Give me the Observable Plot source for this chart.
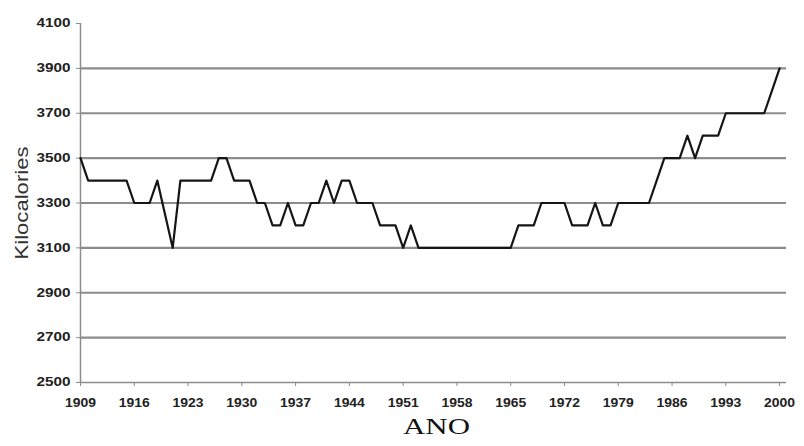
<!DOCTYPE html>
<html>
<head>
<meta charset="utf-8">
<script src="https://cdn.jsdelivr.net/npm/d3@7"></script>
<script src="https://cdn.jsdelivr.net/npm/@observablehq/plot@0.6"></script>
<style>
  body { margin: 0; background: #fff; }
  svg { display: block; }
</style>
</head>
<body>
<div id="chart"></div>
<script>
const years = [
  1909, 1910, 1911, 1912, 1913, 1914, 1915, 1916, 1917, 1918,
  1919, 1920, 1921, 1922, 1923, 1924, 1925, 1926, 1927, 1928,
  1929, 1930, 1931, 1932, 1933, 1934, 1935, 1936, 1937, 1938,
  1939, 1940, 1941, 1942, 1943, 1944, 1945, 1946, 1947, 1948,
  1949, 1950, 1951, 1952, 1953, 1954, 1955, 1956, 1957, 1958,
  1959, 1960, 1961, 1962, 1963, 1964, 1965, 1966, 1967, 1968,
  1969, 1970, 1971, 1972, 1973, 1974, 1975, 1976, 1977, 1978,
  1979, 1980, 1981, 1982, 1983, 1984, 1985, 1986, 1987, 1988,
  1989, 1990, 1991, 1992, 1993, 1994, 1995, 1996, 1997, 1998,
  1999, 2000
];
const kcal = [
  3500, 3400, 3400, 3400, 3400, 3400, 3400, 3300, 3300, 3300,
  3400, 3250, 3100, 3400, 3400, 3400, 3400, 3400, 3500, 3500,
  3400, 3400, 3400, 3300, 3300, 3200, 3200, 3300, 3200, 3200,
  3300, 3300, 3400, 3300, 3400, 3400, 3300, 3300, 3300, 3200,
  3200, 3200, 3100, 3200, 3100, 3100, 3100, 3100, 3100, 3100,
  3100, 3100, 3100, 3100, 3100, 3100, 3100, 3200, 3200, 3200,
  3300, 3300, 3300, 3300, 3200, 3200, 3200, 3300, 3200, 3200,
  3300, 3300, 3300, 3300, 3300, 3400, 3500, 3500, 3500, 3600,
  3500, 3600, 3600, 3600, 3700, 3700, 3700, 3700, 3700, 3700,
  3800, 3900
];
const xTicks = [1909, 1916, 1923, 1930, 1937, 1944, 1951, 1958, 1965, 1972, 1979, 1986, 1993, 2000];
const yTicks = [2500, 2700, 2900, 3100, 3300, 3500, 3700, 3900, 4100];
const gridValues = [2700, 2900, 3100, 3300, 3500, 3700, 3900];
const xLabel = "ANO";
const yLabel = "Kilocalories";

const data = years.map((y, i) => ({ year: y, kcal: kcal[i] }));

const chart = Plot.plot({
  width: 804,
  height: 446,
  marginLeft: 80,
  marginRight: 18,
  marginTop: 23,
  marginBottom: 64,
  style: { background: "#fff", fontFamily: "Arial, 'Liberation Sans', sans-serif" },
  x: { domain: [1909, 2000.9], label: null },
  y: { domain: [2500, 4100], label: null },
  marks: [
    Plot.ruleY(gridValues, { stroke: "#8c8c8c", strokeWidth: 2.2 }),
    Plot.ruleY([2500], { stroke: "#8c8c8c", strokeWidth: 1.5 }),
    Plot.ruleX([1909], { stroke: "#8c8c8c", strokeWidth: 1.5 }),
    Plot.axisX({
      ticks: xTicks, tickFormat: d => String(d), tickSize: 4, tickPadding: 12,
      stroke: "#8c8c8c", color: "#222", fontSize: 12, fontWeight: "bold", label: null
    }),
    Plot.axisY({
      ticks: yTicks, tickFormat: d => String(d), tickSize: 4, tickPadding: 6,
      stroke: "#8c8c8c", color: "#222", fontSize: 12, fontWeight: "bold", label: null
    }),
    Plot.line(data, { x: "year", y: "kcal", stroke: "#151515", strokeWidth: 2.2 }),
    Plot.text([yLabel], {
      frameAnchor: "left", dx: -59, rotate: -90, textAnchor: "middle",
      fontSize: 19, fill: "#333", fontFamily: "Arial, 'Liberation Sans', sans-serif"
    }),
    Plot.text([xLabel], {
      frameAnchor: "bottom", dy: 51, textAnchor: "middle", dx: 3,
      fontSize: 24, fill: "#111", fontFamily: "'Liberation Serif', 'Times New Roman', serif"
    })
  ]
});

document.getElementById("chart").appendChild(chart);

// Horizontal stretch of labels to match the reference proportions
d3.select(chart).selectAll('g[aria-label="x-axis tick label"] text')
  .attr("textLength", 31).attr("lengthAdjust", "spacingAndGlyphs");
d3.select(chart).selectAll('g[aria-label="y-axis tick label"] text')
  .attr("textLength", 34).attr("lengthAdjust", "spacingAndGlyphs");
d3.select(chart).selectAll('g[aria-label="text"] text')
  .filter(function () { return this.textContent === yLabel; })
  .attr("textLength", 113).attr("lengthAdjust", "spacingAndGlyphs");
d3.select(chart).selectAll('g[aria-label="text"] text')
  .filter(function () { return this.textContent === xLabel; })
  .attr("textLength", 67).attr("lengthAdjust", "spacingAndGlyphs");
</script>
</body>
</html>
